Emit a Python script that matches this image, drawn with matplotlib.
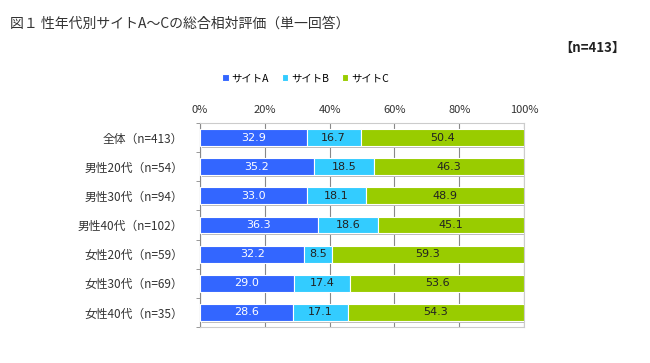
import numpy as np
import matplotlib
matplotlib.use('Agg')
import matplotlib.pyplot as plt

plt.rcParams['font.family'] = ['Noto Sans CJK JP', 'DejaVu Sans']

#__________________________________________________________________
# Datos

categories = ['全体（n=413）', '男性20代（n=54）', '男性30代（n=94）', '男性40代（n=102）',
              '女性20代（n=59）', '女性30代（n=69）', '女性40代（n=35）']
site_a = [32.9, 35.2, 33.0, 36.3, 32.2, 29.0, 28.6]
site_b = [16.7, 18.5, 18.1, 18.6, 8.5, 17.4, 17.1]
site_c = [50.4, 46.3, 48.9, 45.1, 59.3, 53.6, 54.3]
series_names = ['サイトA', 'サイトB', 'サイトC']
colors = ['#3366ff', '#33ccff', '#99cc00']
label_colors = ['white', '#222222', '#222222']

#__________________________________________________________________
# Grafica

fig = plt.figure(figsize=(6.5, 3.63), dpi=100)
ax = fig.add_axes([0.3077, 0.0992, 0.4985, 0.5620])

y = np.arange(len(categories))
h = 0.58
left = np.zeros(len(categories))

# sombra
totals = np.array(site_a) + np.array(site_b) + np.array(site_c)
ax.barh(y + 0.06, totals, height=h, left=0.6, color='#bbbbbb', zorder=2, linewidth=0)

for vals, col, lc, name in zip([site_a, site_b, site_c], colors, label_colors, series_names):
    vals = np.array(vals)
    bars = ax.barh(y, vals, height=h, left=left, color=col, edgecolor='white',
                   linewidth=0.8, zorder=3, label=name)
    for yi, l, v in zip(y, left, vals):
        ax.text(l + v / 2, yi, f'{v:.1f}', ha='center', va='center',
                fontsize=8, color=lc, zorder=4, family=['DejaVu Sans'])
    left = left + vals

ax.set_xlim(0, 100)
ax.set_ylim(len(categories) - 0.5, -0.5)
ax.xaxis.tick_top()
ax.set_xticks(np.arange(0, 101, 20))
ax.set_xticklabels([f'{t}%' for t in range(0, 101, 20)], fontsize=8)
ax.tick_params(axis='x', length=0, pad=6, colors='#333333')
ax.grid(axis='x', color='#888888', linewidth=0.8, zorder=0)

ax.set_yticks(y)
ax.set_yticklabels(categories, fontsize=8.5)
ax.set_yticks(np.arange(-0.5, len(categories), 1), minor=True)
ax.tick_params(axis='y', which='major', length=0, pad=12, colors='#333333')
ax.tick_params(axis='y', which='minor', length=3, color='#888888')

for s in ['top', 'right', 'bottom']:
    ax.spines[s].set_color('#cccccc')
ax.spines['left'].set_color('#888888')

leg = fig.legend(loc='center', bbox_to_anchor=(0.47, 0.785), ncol=3, frameon=False,
                 fontsize=7.5, handlelength=0.6, handleheight=0.6, columnspacing=1.2,
                 handletextpad=0.3)

fig.text(0.015, 0.935, '図１ 性年代別サイトA～Cの総合相対評価（単一回答）', fontsize=10,
         color='#333333', va='center')
fig.text(0.962, 0.868, '【n=413】', fontsize=9.5, color='#222222', ha='right',
         va='center', weight='bold')

fig.savefig('out.png', dpi=100)
